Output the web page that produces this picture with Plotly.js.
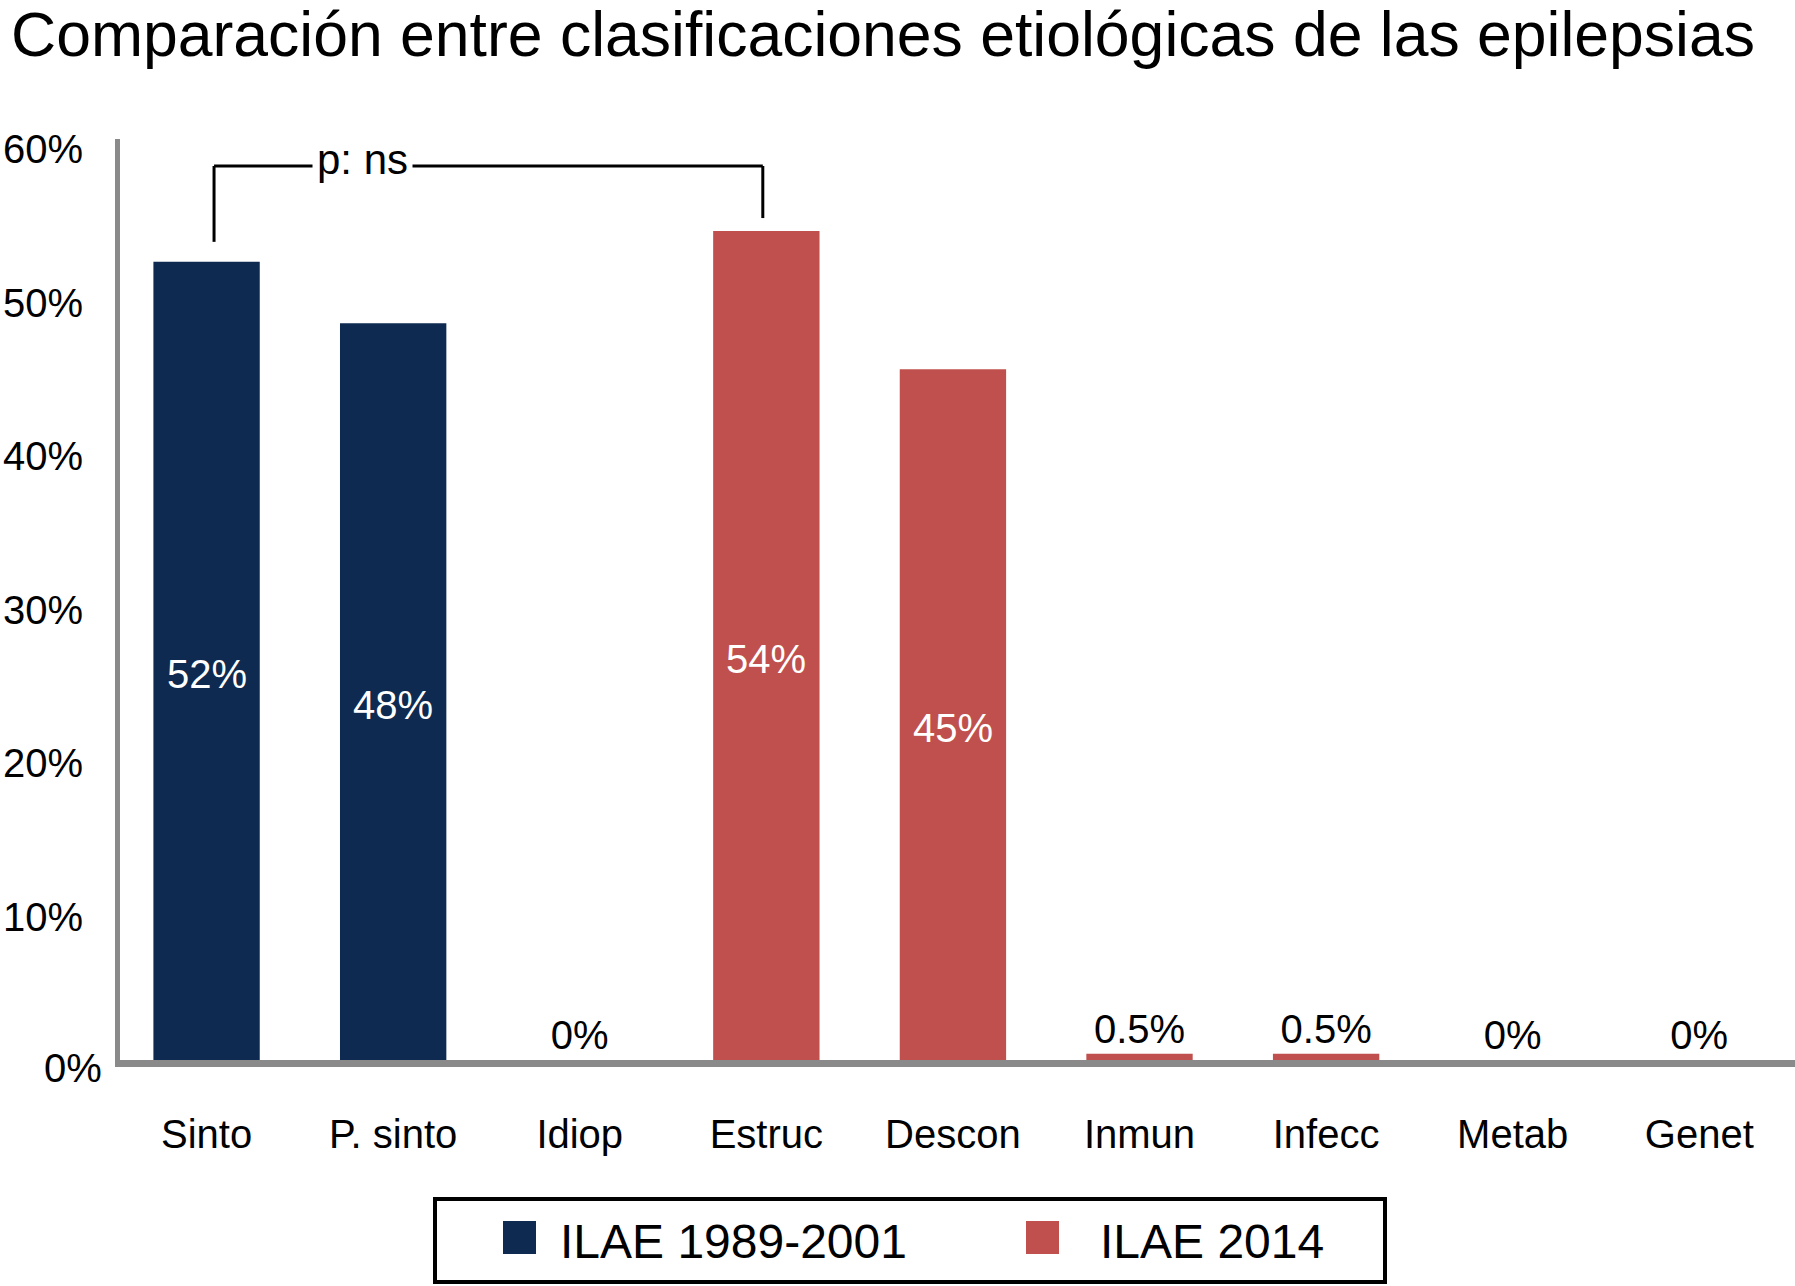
<!DOCTYPE html>
<html>
<head>
<meta charset="utf-8">
<script src="https://cdn.plot.ly/plotly-3.0.1.min.js"></script>
<style>
  body { margin: 0; background: #fff; }
  #chart { width: 1795px; height: 1286px; }
</style>
</head>
<body>
<div id="chart"></div>
<script>
/* ---------------- data ---------------- */
var categories = ['Sinto', 'P. sinto', 'Idiop', 'Estruc', 'Descon', 'Inmun', 'Infecc', 'Metab', 'Genet'];
var seriesNames = ['ILAE 1989-2001', 'ILAE 2014'];

var oldCats = ['Sinto', 'P. sinto', 'Idiop'];
var oldValues = [52, 48, 0];
var oldLabels = ['52%', '48%', '0%'];

var newCats = ['Estruc', 'Descon', 'Inmun', 'Infecc', 'Metab', 'Genet'];
var newValues = [54, 45, 0.4, 0.4, 0, 0];
var newLabels = ['54%', '45%', '0.5%', '0.5%', '0%', '0%'];

var yTickVals = [10, 20, 30, 40, 50, 60];
var yTickText = ['10%', '20%', '30%', '40%', '50%', '60%'];
var zeroLabel = '0%';
var pLabel = 'p: ns';

/* ---------------- style ---------------- */
var FONT = 'Liberation Sans, Arial, Helvetica, sans-serif';
var NAVY = '#0e2a50';
var RED = '#c0504d';
var AXIS = '#8a8a8a';

// plot box in pixels
var W = 1795, H = 1286;
var ml = 120, mr = 0, mt = 139, mb = 226;
var pw = W - ml - mr, ph = H - mt - mb;
function px(p) { return (p - ml) / pw; }        // pixel x -> paper x
function py(p) { return (H - mb - p) / ph; }    // pixel y -> paper y

function isBig(v) { return v > 5; }

// small bars keep their label on top as bar text
function barTrace(name, cats, vals, labels, color) {
  return {
    type: 'bar',
    name: name,
    x: cats,
    y: vals,
    text: labels.map(function (l, i) { return isBig(vals[i]) ? '' : l; }),
    textposition: 'outside',
    outsidetextfont: { family: FONT, size: 40, color: '#000000' },
    constraintext: 'none',
    cliponaxis: false,
    width: 0.57,
    marker: { color: color, line: { width: 0 } },
    hoverinfo: 'skip',
    showlegend: false
  };
}

// big bars: white label a bit below the middle of the bar
function insideLabels(cats, vals, labels) {
  var out = [];
  vals.forEach(function (v, i) {
    if (!isBig(v)) return;
    out.push({
      xref: 'x', yref: 'y', x: cats[i], y: v / 2, yshift: -13,
      text: labels[i], showarrow: false, xanchor: 'center', yanchor: 'middle',
      font: { family: FONT, size: 40, color: '#ffffff' }
    });
  });
  return out;
}

var traces = [
  barTrace(seriesNames[0], oldCats, oldValues, oldLabels, NAVY),
  barTrace(seriesNames[1], newCats, newValues, newLabels, RED)
];

/* bracket between Sinto and Estruc */
var bracketY = 58.24;
var bracket = [
  { type: 'line', xref: 'x', yref: 'y', x0: 0.04, x1: 0.04, y0: 53.3, y1: bracketY },
  { type: 'line', xref: 'x', yref: 'y', x0: 0.04, x1: 2.981, y0: bracketY, y1: bracketY },
  { type: 'line', xref: 'x', yref: 'y', x0: 2.981, x1: 2.981, y0: bracketY, y1: 54.85 }
].map(function (s) { s.line = { color: '#000', width: 3 }; s.layer = 'above'; return s; });

/* hand-made legend box (big square keys like the original) */
var legendShapes = [
  { type: 'rect', xref: 'paper', yref: 'paper',
    x0: px(435), x1: px(1385), y0: py(1199), y1: py(1282),
    line: { color: '#000', width: 4 }, fillcolor: 'rgba(0,0,0,0)' },
  { type: 'rect', xref: 'paper', yref: 'paper',
    x0: px(503), x1: px(536), y0: py(1221), y1: py(1254),
    line: { width: 0 }, fillcolor: NAVY },
  { type: 'rect', xref: 'paper', yref: 'paper',
    x0: px(1026), x1: px(1059), y0: py(1221), y1: py(1254),
    line: { width: 0 }, fillcolor: RED }
];

var annotations = [
  { xref: 'x', yref: 'y', x: 0.835, y: bracketY, yshift: 7, text: pLabel, showarrow: false,
    xanchor: 'center', yanchor: 'middle', bgcolor: '#ffffff', borderpad: 4,
    font: { family: FONT, size: 42, color: '#000' } },
  { xref: 'paper', yref: 'paper', x: px(104), y: py(1068), text: zeroLabel, showarrow: false,
    xanchor: 'right', yanchor: 'middle', font: { family: FONT, size: 40, color: '#000' } },
  { xref: 'paper', yref: 'paper', x: px(558), y: py(1241), text: seriesNames[0], showarrow: false,
    xanchor: 'left', yanchor: 'middle', font: { family: FONT, size: 48, color: '#000' } },
  { xref: 'paper', yref: 'paper', x: px(1098), y: py(1241), text: seriesNames[1], showarrow: false,
    xanchor: 'left', yanchor: 'middle', font: { family: FONT, size: 48, color: '#000' } }
].concat(insideLabels(oldCats, oldValues, oldLabels), insideLabels(newCats, newValues, newLabels));

var layout = {
  width: W,
  height: H,
  margin: { l: ml, r: mr, t: mt, b: mb, pad: 0 },
  paper_bgcolor: '#ffffff',
  plot_bgcolor: '#ffffff',
  barmode: 'overlay',
  showlegend: false,
  font: { family: FONT, color: '#000' },
  title: {
    text: 'Comparación entre clasificaciones etiológicas de las epilepsias',
    font: { family: FONT, size: 62.5, color: '#000' },
    xref: 'container', x: 11 / W, xanchor: 'left',
    yref: 'container', y: 1 - 34 / H, yanchor: 'middle'
  },
  xaxis: {
    type: 'category',
    categoryorder: 'array',
    categoryarray: categories,
    range: [-0.464, 8.513],
    showline: true, linecolor: AXIS, linewidth: 7,
    showgrid: false, zeroline: false, ticks: '',
    ticklabelstandoff: 33,
    tickfont: { family: FONT, size: 40, color: '#000' },
    fixedrange: true
  },
  yaxis: {
    range: [0, 60],
    tickvals: yTickVals,
    ticktext: yTickText,
    showline: true, linecolor: AXIS, linewidth: 5,
    showgrid: false, zeroline: false, ticks: '',
    ticklabelstandoff: 24,
    ticklabelshift: 10,
    tickfont: { family: FONT, size: 40, color: '#000' },
    fixedrange: true
  },
  shapes: bracket.concat(legendShapes),
  annotations: annotations
};

Plotly.newPlot('chart', traces, layout, { displayModeBar: false, staticPlot: true });
</script>
</body>
</html>
